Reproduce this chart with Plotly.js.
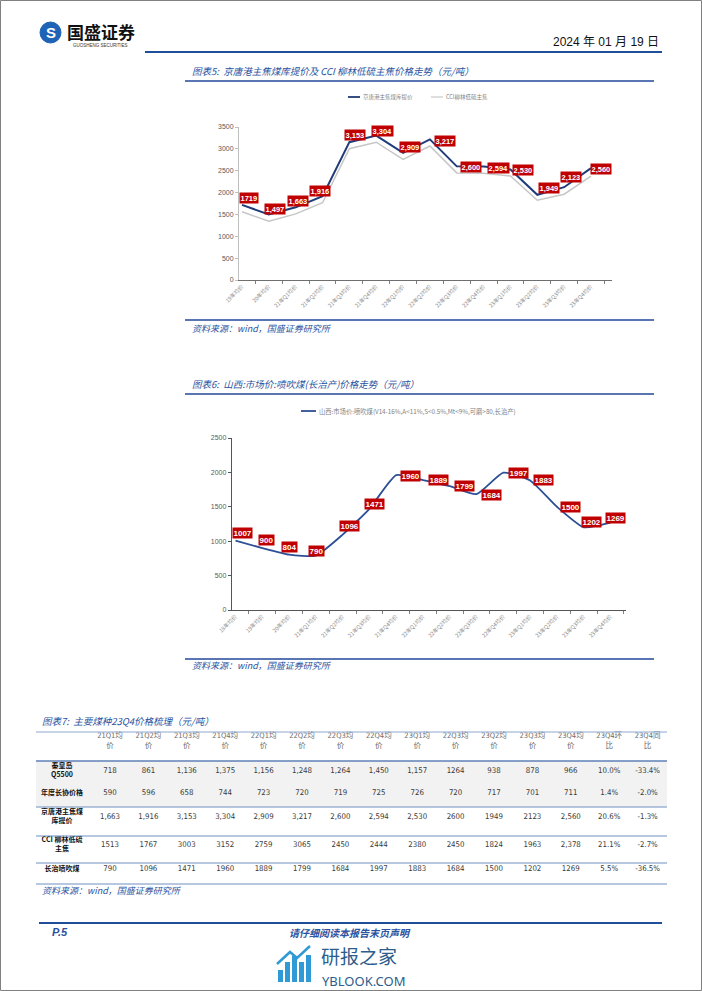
<!DOCTYPE html>
<html><head><meta charset="utf-8">
<script src="https://cdn.plot.ly/plotly-3.0.1.min.js"></script>
<style>body{margin:0;background:#fff}#c{width:702px;height:991px}</style>
</head><body><div id="c"></div>
<script>
// ---------- DATA ----------
const cats1 = ['19年均价','20年均价','21年Q1均价','21年Q2均价','21年Q3均价','21年Q4均价','22年Q1均价','22年Q2均价','22年Q3均价','22年Q4均价','23年Q1均价','23年Q2均价','23年Q3均价','23年Q4均价'];
const jingtang = [1719,1497,1663,1916,3153,3304,2909,3217,2600,2594,2530,1949,2123,2560];
const cciLiulin = [1560,1345,1513,1767,3003,3152,2759,3065,2450,2444,2380,1824,1963,2378];
const seriesNames1 = ['京唐港主焦煤库提价','CCI柳林低硫主焦'];

const cats2 = ['18年均价','19年均价','20年均价','21年Q1均价','21年Q2均价','21年Q3均价','21年Q4均价','22年Q1均价','22年Q2均价','22年Q3均价','22年Q4均价','23年Q1均价','23年Q2均价','23年Q3均价','23年Q4均价'];
const changzhi = [1007,900,804,790,1096,1471,1960,1889,1799,1684,1997,1883,1500,1202,1269];
const seriesName2 = '山西:市场价:喷吹煤(V14-16%,A<11%,S<0.5%,Mt<9%,可磨>80,长治产)';

const tableHeaders = ['21Q1均价','21Q2均价','21Q3均价','21Q4均价','22Q1均价','22Q2均价','22Q3均价','22Q4均价','23Q1均价','22Q3均价','23Q2均价','23Q3均价','23Q4均价','23Q4环比','23Q4同比'];
const rowLabels = ['秦皇岛<br>Q5500','年度长协价格','京唐港主焦煤<br>库提价','CCI 柳林低硫<br>主焦','长治喷吹煤'];
const rowQhd = ['718','861','1,136','1,375','1,156','1,248','1,264','1,450','1,157','1264','938','878','966','10.0%','-33.4%'];
const rowLongTerm = ['590','596','658','744','723','720','719','725','726','720','717','701','711','1.4%','-2.0%'];
const rowJingtang = ['1,663','1,916','3,153','3,304','2,909','3,217','2,600','2,594','2,530','2600','1949','2123','2,560','20.6%','-1.3%'];
const rowCci = ['1513','1767','3003','3152','2759','3065','2450','2444','2380','2450','1824','1963','2,378','21.1%','-2.7%'];
const rowChangzhi = ['790','1096','1471','1960','1889','1799','1684','1997','1883','1684','1500','1202','1269','5.5%','-36.5%'];

// ---------- LAYOUT HELPERS ----------
const W = 702, H = 991;
const px = x => x / W, py = y => 1 - y / H;
const BLUE = '#2a52a0';
const CJK = 'Noto Sans CJK SC, Liberation Sans, sans-serif';
const SANS = 'Liberation Sans, Arial, Noto Sans CJK SC, sans-serif';
const NARROW = 'Liberation Sans Narrow, DejaVu Sans Condensed, Liberation Sans, Noto Sans CJK SC, sans-serif';

const shapes = [], ann = [];
function hline(x0, x1, y, color, w) {
  shapes.push({type:'line', xref:'paper', yref:'paper', x0:px(x0), x1:px(x1), y0:py(y), y1:py(y), line:{color:color, width:w}});
}
function txt(x, y, text, font, xa) {
  ann.push({xref:'paper', yref:'paper', x:px(x), y:py(y), text:text, showarrow:false,
    xanchor:xa || 'left', yanchor:'middle', font:font, borderpad:0});
}

// page border
shapes.push({type:'rect', xref:'paper', yref:'paper', x0:px(0.5), x1:px(701.5), y0:py(0.5), y1:py(990.5), line:{color:'#808080', width:1}});

// header
shapes.push({type:'circle', xref:'paper', yref:'paper', x0:px(40), x1:px(61), y0:py(22), y1:py(43), fillcolor:'#1e63b5', line:{color:'#1e63b5', width:1}});
txt(50.5, 32.5, '<b>S</b>', {family:SANS, size:15, color:'#fff'}, 'center');
txt(66, 31.5, '<b>国盛证券</b>', {family:CJK, size:17, color:'#111'});
txt(72, 45.5, 'GUOSHENG SECURITIES', {family:SANS, size:4.5, color:'#333'});
txt(660, 42, '2024 年 01 月 19 日', {family:SANS, size:12, color:'#111'}, 'right');
hline(145, 662, 52, '#1f4e9a', 2);

// chart 1 frame texts
const titleFont = {family:CJK, size:9.5, color:BLUE, style:'italic'};
txt(191, 71, '图表5:  京唐港主焦煤库提价及 CCI 柳林低硫主焦价格走势（元/吨）', titleFont);
hline(185, 654, 81, '#23479a', 1.5);
// legend 1
hline(348, 360, 97, '#1f3c78', 1.8);
txt(362, 97, seriesNames1[0], {family:CJK, size:5.5, color:'#7f7f7f'});
hline(431, 443, 97, '#c8c8c8', 1.2);
txt(445, 97, seriesNames1[1], {family:CJK, size:5.5, color:'#7f7f7f'});
hline(185, 654, 320, '#23479a', 1.5);
const srcFont = {family:CJK, size:9, color:BLUE, style:'italic'};
txt(191, 328, '资料来源：wind，国盛证券研究所', srcFont);

// chart 2 frame texts
txt(191, 384, '图表6:  山西:市场价:喷吹煤(长治产)价格走势（元/吨）', titleFont);
hline(185, 654, 394, '#23479a', 1.5);
hline(301, 316, 411, '#2c4f95', 1.8);
txt(318, 411, seriesName2, {family:CJK, size:6.3, color:'#7f7f7f'});
hline(185, 654, 659, '#23479a', 1.5);
txt(191, 665, '资料来源：wind，国盛证券研究所', srcFont);

// table frame
txt(41, 721, '图表7:  主要煤种23Q4价格梳理（元/吨）', titleFont);
shapes.push({type:'rect', xref:'paper', yref:'paper', layer:'below', x0:px(36), x1:px(667), y0:py(807), y1:py(761), fillcolor:'#f2f2f2', line:{width:0}});
hline(36, 667, 732, '#8fa8cf', 1.2);
hline(36, 667, 761, '#5f80b8', 1.6);
[807, 836, 863, 884].forEach(y => hline(36, 667, y, '#6f8fc0', 1.1));
txt(41, 890, '资料来源：wind，国盛证券研究所', srcFont);

// footer
hline(39, 662, 923, '#1f4e9a', 2);
txt(51, 932, '<b>P.5</b>', {family:SANS, size:11, color:BLUE, style:'italic'});
txt(350, 932, '<b>请仔细阅读本报告末页声明</b>', {family:CJK, size:10, color:BLUE, style:'italic'}, 'center');
// watermark
[[278,970],[285,962],[292,956],[299,962],[306,955]].forEach(b => shapes.push({type:'rect', xref:'paper', yref:'paper', x0:px(b[0]), x1:px(b[0]+5), y0:py(982), y1:py(b[1]), fillcolor:'#2f9ad6', line:{width:0}}));
shapes.push({type:'path', xref:'paper', yref:'paper', path:`M ${px(277)} ${py(964)} L ${px(290)} ${py(952)} L ${px(297)} ${py(958)} L ${px(310)} ${py(946)}`, line:{color:'#2f9ad6', width:2.5}});
txt(320, 955, '研报之家', {family:CJK, size:19, color:'#2c5d8c'});
txt(321, 980.5, 'YBLOOK.COM', {family:'Noto Sans, Liberation Sans, sans-serif', size:13, color:'#2c5d8c'});

// data labels
const lab1Off = [[7,-7],[6,-6],[2,-6],[-3,-5],[6,-7],[6,-5],[7,-6],[15,2],[14,1],[15,1],[13,1],[12,-7],[7,-10],[10,1]];
const lab2Off = [[7,-8],[4,-8],[0,-8],[1,-5],[7,-9],[5,-5],[14,1],[15,0],[15,0],[15,1],[15,0],[13,0],[14,0],[8,-5],[5,-5]];
cats1.forEach((c, i) => ann.push({xref:'x', yref:'y', x:c, y:jingtang[i],
  text: i === 0 ? String(jingtang[i]) : jingtang[i].toLocaleString('en-US'),
  showarrow:false, xshift:lab1Off[i][0], yshift:-lab1Off[i][1], bgcolor:'#c00000', borderpad:0.5,
  font:{family:SANS, size:7.5, color:'#fff', weight:'bold'}}));
cats2.forEach((c, i) => ann.push({xref:'x2', yref:'y2', x:c, y:changzhi[i], text:String(changzhi[i]),
  showarrow:false, xshift:lab2Off[i][0], yshift:-lab2Off[i][1], bgcolor:'#c00000', borderpad:0.5,
  font:{family:SANS, size:8, color:'#fff', weight:'bold'}}));

// ---------- TRACES ----------
const traces = [
  {type:'scatter', mode:'lines', x:cats1, y:cciLiulin, name:seriesNames1[1], xaxis:'x', yaxis:'y', line:{color:'#c6c6c6', width:1.5}, hoverinfo:'skip'},
  {type:'scatter', mode:'lines', x:cats1, y:jingtang, name:seriesNames1[0], xaxis:'x', yaxis:'y', line:{color:'#1f3c78', width:2}, hoverinfo:'skip'},
  {type:'scatter', mode:'lines', x:cats2, y:changzhi, name:seriesName2, xaxis:'x2', yaxis:'y2', line:{color:'#2c4f95', width:1.8, shape:'spline', smoothing:0.5}, hoverinfo:'skip'}
];
// table as text traces on the table axes
const colIdx = tableHeaders.map((_, i) => i);
const headerY = 741;
const rowY = [771, 793, 817, 845, 869];
const labelCol = -1.25;
traces.push({type:'scatter', mode:'text', x:colIdx, y:colIdx.map(() => headerY),
  text: tableHeaders.map(h => h.slice(0, -1) + '<br>' + h.slice(-1)), cliponaxis:false,
  xaxis:'x3', yaxis:'y3', textposition:'middle center', textfont:{family:NARROW, size:7.5, color:'#6b6b6b'}, hoverinfo:'skip'});
[rowQhd, rowLongTerm, rowJingtang, rowCci, rowChangzhi].forEach((row, r) => traces.push({
  type:'scatter', mode:'text', x:colIdx, y:colIdx.map(() => rowY[r]), text:row, cliponaxis:false,
  xaxis:'x3', yaxis:'y3', textposition:'middle center', textfont:{family:NARROW, size:7.8, color:'#3a3a3a'}, hoverinfo:'skip'}));
traces.push({type:'scatter', mode:'text', x:rowLabels.map(() => labelCol), y:rowY, text:rowLabels.map(s => '<b>' + s + '</b>'), cliponaxis:false,
  xaxis:'x3', yaxis:'y3', textposition:'middle center', textfont:{family:CJK, size:7, color:'#111'}, hoverinfo:'skip'});

const tickFontX = {family:CJK, size:5.5, color:'#8a8a8a'};
const tickFontY = {family:SANS, size:7, color:'#595959'};
const layout = {
  width:W, height:H, margin:{l:0, r:0, t:0, b:0}, showlegend:false,
  paper_bgcolor:'#fff', plot_bgcolor:'rgba(0,0,0,0)',
  font:{family:SANS},
  xaxis:{domain:[px(239), px(612)], anchor:'y', type:'category', categoryarray:cats1, tickson:'boundaries',
    ticks:'outside', ticklen:3, tickcolor:'#7f7f7f', tickangle:-45, tickfont:tickFontX,
    showline:true, linecolor:'#6f6f6f', linewidth:1.3, showgrid:false, zeroline:false, fixedrange:true},
  yaxis:{domain:[py(280), py(127)], anchor:'x', range:[0, 3500], dtick:500, tickmode:'linear',
    ticks:'outside', ticklen:3, tickcolor:'#bfbfbf', tickfont:tickFontY,
    showline:true, linecolor:'#bfbfbf', linewidth:1, showgrid:false, zeroline:false, fixedrange:true},
  xaxis2:{domain:[px(232), px(626)], anchor:'y2', type:'category', categoryarray:cats2, tickson:'boundaries',
    ticks:'outside', ticklen:3, tickcolor:'#7f7f7f', tickangle:-45, tickfont:tickFontX,
    showline:true, linecolor:'#555', linewidth:1.3, showgrid:false, zeroline:false, fixedrange:true},
  yaxis2:{domain:[py(610), py(438)], anchor:'x2', range:[0, 2500], dtick:500, tickmode:'linear',
    ticks:'outside', ticklen:3, tickcolor:'#555', tickfont:tickFontY,
    showline:true, linecolor:'#555', linewidth:1.2, showgrid:false, zeroline:false, fixedrange:true},
  xaxis3:{domain:[px(36), px(667)], anchor:'y3', range:[(36 - 110) / 38.4, (667 - 110) / 38.4], visible:false, fixedrange:true},
  yaxis3:{domain:[py(886), py(728)], anchor:'x3', range:[886, 728], visible:false, fixedrange:true},
  shapes:shapes, annotations:ann
};
Plotly.newPlot('c', traces, layout, {staticPlot:true, displayModeBar:false});
</script></body></html>
